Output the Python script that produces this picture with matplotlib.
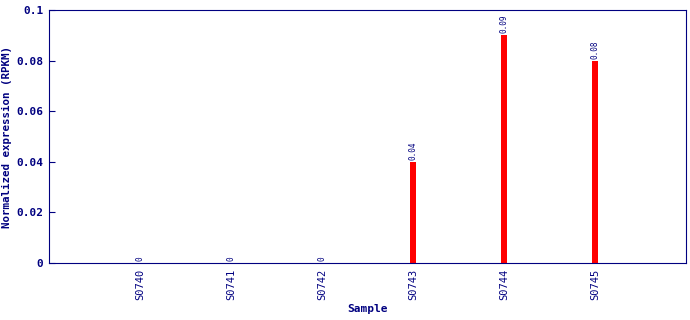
import matplotlib
matplotlib.use("Agg")
import matplotlib.pyplot as plt

# --- data ---
samples = ["S0740", "S0741", "S0742", "S0743", "S0744", "S0745"]
values = [0, 0, 0, 0.04, 0.09, 0.08]
labels = ["0", "0", "0", "0.04", "0.09", "0.08"]

navy = "#000080"
plt.rcParams["font.family"] = "DejaVu Sans Mono"

fig = plt.figure(figsize=(6.9, 3.2), dpi=100)
ax = fig.add_axes([49 / 690, 57 / 320, 637 / 690, 253 / 320])

x = list(range(len(samples)))
ax.bar(x, values, width=0.055, color="red")

for xi, v, lab in zip(x, values, labels):
    ax.text(xi, v + 0.0008, lab, rotation=90, ha="center", va="bottom",
            fontsize=5.5, color=navy)

ax.set_xlim(-1, 6)
ax.set_ylim(0, 0.1)
ax.set_yticks([0, 0.02, 0.04, 0.06, 0.08, 0.1])
ax.set_yticklabels(["0", "0.02", "0.04", "0.06", "0.08", "0.1"],
                   fontweight="bold", fontsize=8, color=navy)
ax.set_xticks(x)
ax.set_xticklabels(samples, rotation=90, fontsize=7.5, color=navy)
ax.tick_params(axis="y", direction="in", length=4, color=navy, pad=4)
ax.tick_params(axis="x", length=0, pad=4)
for s in ax.spines.values():
    s.set_color(navy)

ax.set_xlabel("Sample", fontweight="bold", fontsize=8, color=navy, labelpad=3)
ax.set_ylabel("Normalized expression (RPKM)", fontweight="bold", fontsize=7.8,
              color=navy, labelpad=3)

fig.savefig("out.png", dpi=100)
